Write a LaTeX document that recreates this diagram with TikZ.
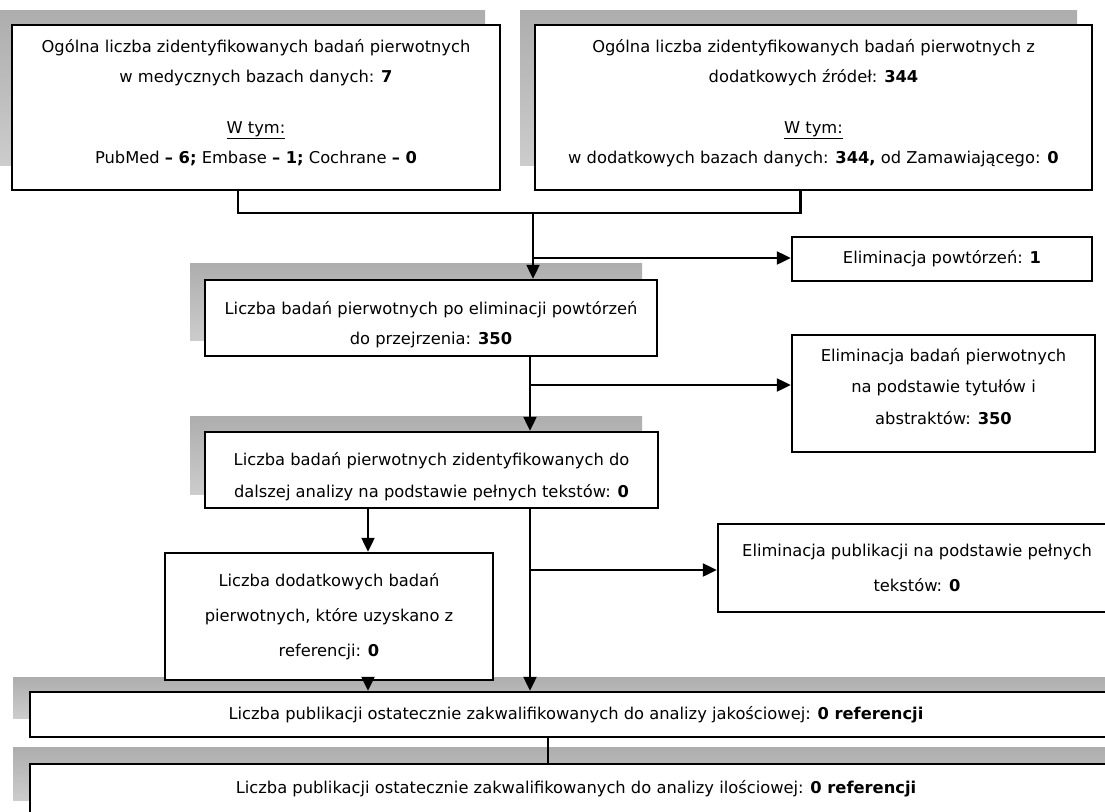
\documentclass[tikz,border=0pt]{standalone}
\usepackage{fontspec}
\setmainfont{DejaVu Sans}
\usetikzlibrary{arrows.meta,calc}
\newcommand{\rbx}[2]{\raisebox{#1}[\height][\depth]{\begin{tabular}{@{}c@{}}#2\end{tabular}}}
\begin{document}
\begin{tikzpicture}[x=1pt,y=-1pt,
  box/.style={draw=black, line width=2.4pt, fill=white, align=center, inner sep=0pt,
    font=\fontsize{16.3}{30}\selectfont},
  shadowbox/.style={top color=black!32, bottom color=black!20, draw=none},
  conn/.style={line width=2.2pt},
  arr/.style={conn, -{Triangle[length=14pt,width=13pt]}},
]
\useasboundingbox (0,0) rectangle (1105,811);
\fill[white] (0,0) rectangle (1105,811);
% shadows
\shade[shadowbox] (0,10) rectangle (485,165);
\shade[shadowbox] (520,10) rectangle (1077,165);
\shade[shadowbox] (190,263) rectangle (642,340);
\shade[shadowbox] (190,416) rectangle (642,494);
\shade[shadowbox] (13,677) rectangle (1105,718);
\shade[shadowbox] (13,747) rectangle (1105,800);
% boxes
\node[box, minimum width=488pt, minimum height=165pt] (b1) at (256,107.5)
  {\rbx{6pt}{Ogólna liczba zidentyfikowanych badań pierwotnych\\ w medycznych bazach danych: \textbf{7}\\[21pt]
   \underline{W tym:}\\ PubMed \textbf{– 6;} Embase \textbf{– 1;} Cochrane \textbf{– 0}}};
\node[box, minimum width=557pt, minimum height=165pt] (b2) at (813.5,107.5)
  {\rbx{6pt}{Ogólna liczba zidentyfikowanych badań pierwotnych z\\ dodatkowych źródeł: \textbf{344}\\[21pt]
   \underline{W tym:}\\ w dodatkowych bazach danych: \textbf{344,} od Zamawiającego: \textbf{0}}};
\node[box, minimum width=300pt, minimum height=44pt] (e1) at (942,259)
  {Eliminacja powtórzeń: \textbf{1}};
\node[box, minimum width=452pt, minimum height=76pt] (b3) at (431,318)
  {\rbx{-5pt}{Liczba badań pierwotnych po eliminacji powtórzeń\\ do przejrzenia: \textbf{350}}};
\node[box, minimum width=303pt, minimum height=117pt, font=\fontsize{16.3}{31.5}\selectfont] (e2) at (943.5,393.5)
  {\rbx{7pt}{Eliminacja badań pierwotnych\\ na podstawie tytułów i\\ abstraktów: \textbf{350}}};
\node[box, minimum width=453pt, minimum height=76pt, font=\fontsize{16.3}{32}\selectfont] (b4) at (431.5,470)
  {\rbx{-5pt}{Liczba badań pierwotnych zidentyfikowanych do\\ dalszej analizy na podstawie pełnych tekstów: \textbf{0}}};
\node[box, minimum width=328pt, minimum height=127pt, font=\fontsize{16.3}{35}\selectfont] (b5) at (329,616.5)
  {Liczba dodatkowych badań\\ pierwotnych, które uzyskano z\\ referencji: \textbf{0}};
\node[box, minimum width=398pt, minimum height=88pt, font=\fontsize{16.3}{35}\selectfont] (e3) at (917,568)
  {Eliminacja publikacji na podstawie pełnych\\ tekstów: \textbf{0}};
\node[box, minimum width=1092pt, minimum height=45pt] (b6) at (576,714.5)
  {Liczba publikacji ostatecznie zakwalifikowanych do analizy jakościowej: \textbf{0 referencji}};
\node[box, minimum width=1092pt, minimum height=50pt] (b7) at (576,789)
  {Liczba publikacji ostatecznie zakwalifikowanych do analizy ilościowej: \textbf{0 referencji}};
% connectors
\coordinate (j1) at (533,213);
\coordinate (br1) at (533,258);
\coordinate (br2) at (530,385);
\coordinate (br3) at (530,570);
\coordinate (c1) at (368,0);
\coordinate (c2) at (548,0);
\draw[conn] ([xshift=-18pt]b1.south) |- (j1);
\draw[conn] ([xshift=-13pt]b2.south) |- (j1);
\draw[arr] (j1) -- (j1 |- b3.north);
\draw[arr] (br1) -- (e1.west |- br1);
\draw[arr] (b3.south -| br2) -- (b4.north -| br2);
\draw[arr] (br2) -- (e2.west |- br2);
\draw[arr] (b4.south -| c1) -- (b5.north -| c1);
\draw[arr] (b5.south -| c1) -- (b6.north -| c1);
\draw[arr] (b4.south -| br3) -- (b6.north -| br3);
\draw[arr] (br3) -- (e3.west |- br3);
\draw[conn] (b6.south -| c2) -- (b7.north -| c2);
\end{tikzpicture}
\end{document}
